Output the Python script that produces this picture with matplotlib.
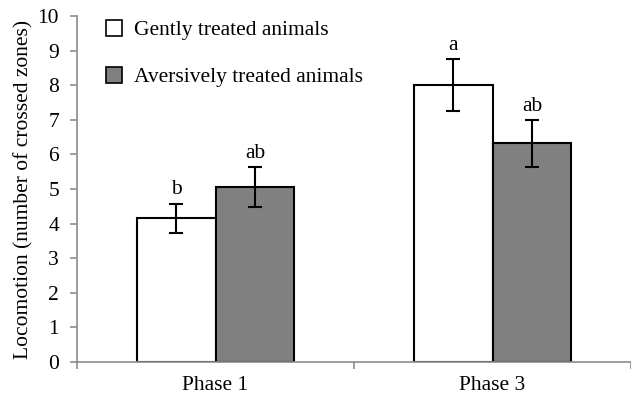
import matplotlib
matplotlib.use("Agg")
import matplotlib.pyplot as plt
from matplotlib.patches import Patch
import numpy as np

plt.rcParams["font.family"] = ["Liberation Serif", "DejaVu Serif"]

phases = ["Phase 1", "Phase 3"]
groups = ["Gently treated animals", "Aversively treated animals"]
gentle = [4.15, 8.0]
gentle_err = [0.43, 0.75]
aversive = [5.05, 6.32]
aversive_err = [0.58, 0.68]
gentle_letters = ["b", "a"]
aversive_letters = ["ab", "ab"]

colors = ["white", "#808080"]
axis_grey = "#8c8c8c"
fs = 15.5

fig = plt.figure(figsize=(6.31, 4.03), dpi=100)
ax = fig.add_axes([77 / 631, 41 / 403, 1 - 77 / 631, 346 / 403])

x = np.arange(len(phases))
w = 0.285

series = [(gentle, gentle_err, gentle_letters), (aversive, aversive_err, aversive_letters)]
for i, (vals, errs, letters) in enumerate(series):
    pos = x + (i - 0.5) * w
    ax.bar(pos, vals, width=w, color=colors[i], edgecolor="black", linewidth=1.5,
           label=groups[i], zorder=2)
    ax.errorbar(pos, vals, yerr=errs, fmt="none", ecolor="black", elinewidth=1.5,
                capsize=5, capthick=1.5, zorder=3)
    for p, v, e, t in zip(pos, vals, errs, letters):
        ax.text(p, v + e + 0.12, t, ha="center", va="bottom", fontsize=fs)

ax.set_ylim(0, 10)
ax.set_yticks(range(0, 11))
ax.set_xlim(-0.5, 1.5 - 6 / 281)
ax.set_xticks([-0.5, 0.5, 1.5])
ax.set_xticklabels([])
ax.set_xticks(x, minor=True)
ax.set_xticklabels(phases, minor=True, fontsize=fs)
ax.tick_params(axis="x", which="minor", length=0, pad=10)
ax.tick_params(axis="x", which="major", length=5, color=axis_grey, width=1.2)
ax.tick_params(axis="y", length=5, color=axis_grey, width=1.2, labelsize=fs, pad=8)

for s in ["top", "right"]:
    ax.spines[s].set_visible(False)
for s in ["left", "bottom"]:
    ax.spines[s].set_color(axis_grey)
    ax.spines[s].set_linewidth(1.2)

ax.set_ylabel("Locomotion (number of crossed zones)", fontsize=fs, labelpad=3)

handles = [Patch(facecolor=colors[i], edgecolor="black", linewidth=1.2) for i in range(2)]
ax.legend(handles, groups, loc="upper left", bbox_to_anchor=(0.018, 1.045), frameon=False,
          fontsize=fs, handlelength=0.75, handleheight=0.75, handletextpad=0.55,
          labelspacing=1.25)

fig.savefig("out.png", dpi=100)
